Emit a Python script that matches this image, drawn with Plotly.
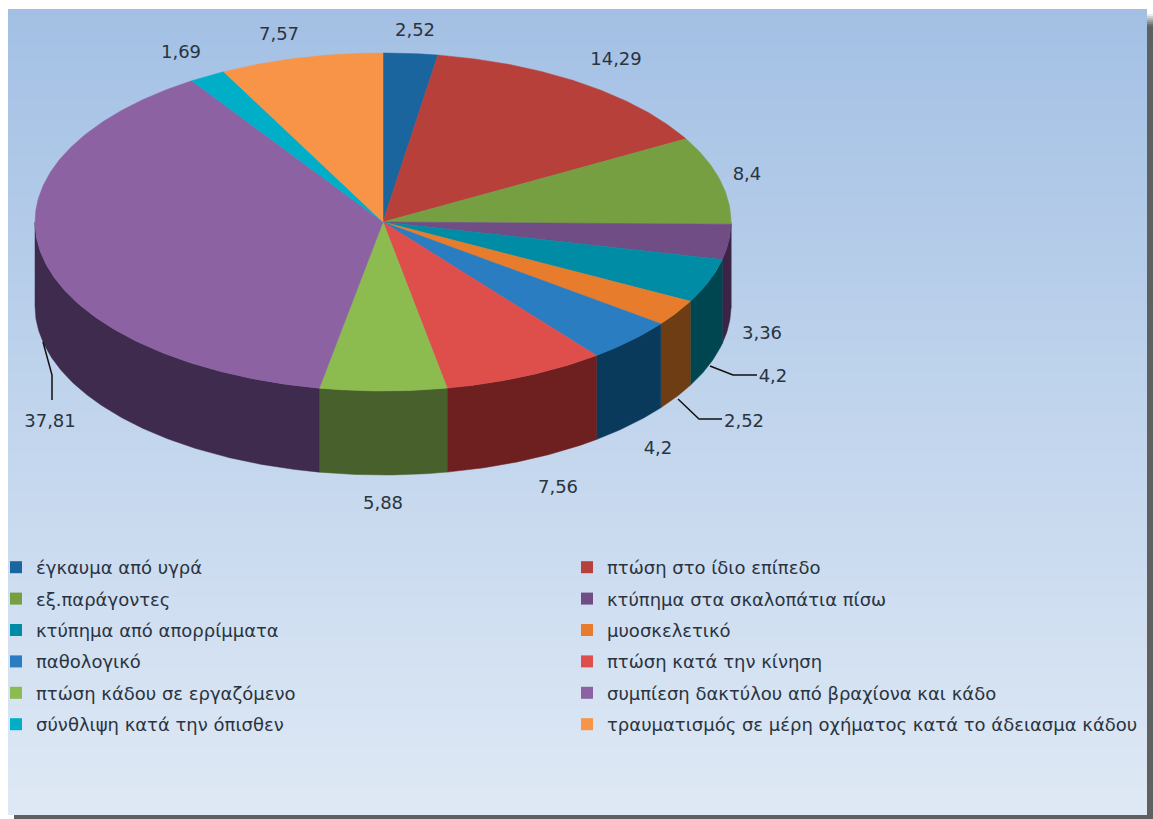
import numpy as np
import plotly.graph_objects as go

categories = ["έγκαυμα από υγρά", "πτώση στο ίδιο επίπεδο", "εξ.παράγοντες",
              "κτύπημα στα σκαλοπάτια πίσω", "κτύπημα από απορρίμματα", "μυοσκελετικό",
              "παθολογικό", "πτώση κατά την κίνηση", "πτώση κάδου σε εργαζόμενο",
              "συμπίεση δακτύλου από βραχίονα και κάδο", "σύνθλιψη κατά την όπισθεν",
              "τραυματισμός σε μέρη οχήματος κατά το άδειασμα κάδου"]
values = [2.52, 14.29, 8.4, 3.36, 4.2, 2.52, 4.2, 7.56, 5.88, 37.81, 1.69, 7.57]
top_colors = ["#1A659E", "#B7403B", "#769F42", "#704D85", "#008CA5", "#E67C2C",
              "#2A7DC0", "#DE4F4C", "#8CBB50", "#8C62A2", "#00AEC8", "#F79448"]
side_colors = ["#0D3A5C", "#6E1F1F", "#48602B", "#3C2447", "#004650", "#6F3D14",
               "#093A5C", "#6E1F1F", "#48602B", "#3F2B4E", "#005F70", "#8A4F20"]
label_x = [415, 616, 747, 762, 773, 744, 658, 558, 383, 50, 181, 279]
label_y = [31, 60, 175, 334, 377, 422, 449, 488, 504, 422, 53, 35]
leaders = [([710, 733, 757], [366, 375, 375]),
           ([678, 699, 722], [399, 419, 419]),
           ([43, 52, 52], [342, 375, 400])]

W, H = 1153, 819
FX0, FY0, FX1, FY1 = 8, 9, 1147, 815
CX, CY, RX, RY, DEPTH = 383, 222, 348, 169, 84
TOP_BG, BOTTOM_BG = np.array([163, 192, 228]), np.array([223, 233, 245])


def rim(a, b, n=None):
    n = n or max(2, int(abs(b - a) / 0.01))
    t = np.linspace(a, b, n)
    return CX + RX * np.sin(t), CY - RY * np.cos(t)


fig = go.Figure()
shapes = []

# drop shadow
shapes.append(dict(type="rect", x0=14, x1=W, y0=26, y1=H, fillcolor="#606060", line_width=0, layer="below"))
for i, y in enumerate(range(14, 26, 2)):
    g = 235 - i * 25
    shapes.append(dict(type="rect", x0=1147, x1=W, y0=y, y1=y + 2,
                       fillcolor=f"rgb({g},{g},{g})", line_width=0, layer="below"))
# frame gradient
step = 4
for y in range(FY0, FY1, step):
    f = (y - FY0) / (FY1 - FY0)
    c = TOP_BG + (BOTTOM_BG - TOP_BG) * f
    shapes.append(dict(type="rect", x0=FX0, x1=FX1, y0=y, y1=min(y + step, FY1),
                       fillcolor=f"rgb({c[0]:.0f},{c[1]:.0f},{c[2]:.0f})", line_width=0, layer="below"))

fractions = np.array(values) / sum(values)
ends = np.cumsum(fractions) * 2 * np.pi
starts = ends - fractions * 2 * np.pi

# side walls (front half only)
for a, b, col, name in zip(starts, ends, side_colors, categories):
    a2, b2 = max(a, np.pi / 2), min(b, 3 * np.pi / 2)
    if b2 <= a2:
        continue
    x, y = rim(a2, b2)
    fig.add_trace(go.Scatter(x=np.r_[x, x[::-1], x[0]], y=np.r_[y, y[::-1] + DEPTH, y[0]],
                             mode="lines", fill="toself", fillcolor=col, line=dict(color=col, width=0.5),
                             hoverinfo="skip", showlegend=False))

# top faces
for a, b, col, name, v in zip(starts, ends, top_colors, categories, values):
    x, y = rim(a, b)
    fig.add_trace(go.Scatter(x=np.r_[CX, x, CX], y=np.r_[CY, y, CY], mode="lines", fill="toself",
                             fillcolor=col, line=dict(color=col, width=0.5), name=name,
                             text=f"{name}: {v}", hoverinfo="text", showlegend=False))

# leader lines
for lx, ly in leaders:
    fig.add_trace(go.Scatter(x=lx, y=ly, mode="lines", line=dict(color="#111111", width=1.5),
                             hoverinfo="skip", showlegend=False))

# data labels
text_labels = [str(v).replace(".", ",") for v in values]
fig.add_trace(go.Scatter(x=label_x, y=label_y, mode="text", text=text_labels,
                         textposition="middle center",
                         textfont=dict(family="DejaVu Sans", size=18, color="#2A3440"),
                         hoverinfo="skip", showlegend=False))

# legend entries, two columns
for i, (name, col) in enumerate(zip(categories, top_colors)):
    fig.add_trace(go.Scatter(x=[None], y=[None], mode="markers", name=name,
                             marker=dict(symbol="square", size=12, color=col),
                             legend="legend" if i % 2 == 0 else "legend2",
                             legendgroup=name, showlegend=True))

legend_style = dict(bgcolor="rgba(0,0,0,0)", borderwidth=0, tracegroupgap=5, orientation="v",
                    font=dict(family="DejaVu Sans", size=18, color="#2A3440"),
                    xanchor="left", yanchor="top", itemsizing="constant", traceorder="grouped",
                    y=1 - 549 / H)

fig.update_layout(
    width=W, height=H, margin=dict(l=0, r=0, t=0, b=0, autoexpand=False),
    paper_bgcolor="white", plot_bgcolor="rgba(0,0,0,0)",
    xaxis=dict(range=[0, W], visible=False, fixedrange=True),
    yaxis=dict(range=[H, 0], visible=False, fixedrange=True),
    shapes=shapes,
    legend=dict(legend_style, x=-4 / W),
    legend2=dict(legend_style, x=567 / W),
)

fig.write_html("out.html", config=dict(displayModeBar=False),
               post_script="document.body.style.margin='0';document.body.style.overflow='hidden';")
